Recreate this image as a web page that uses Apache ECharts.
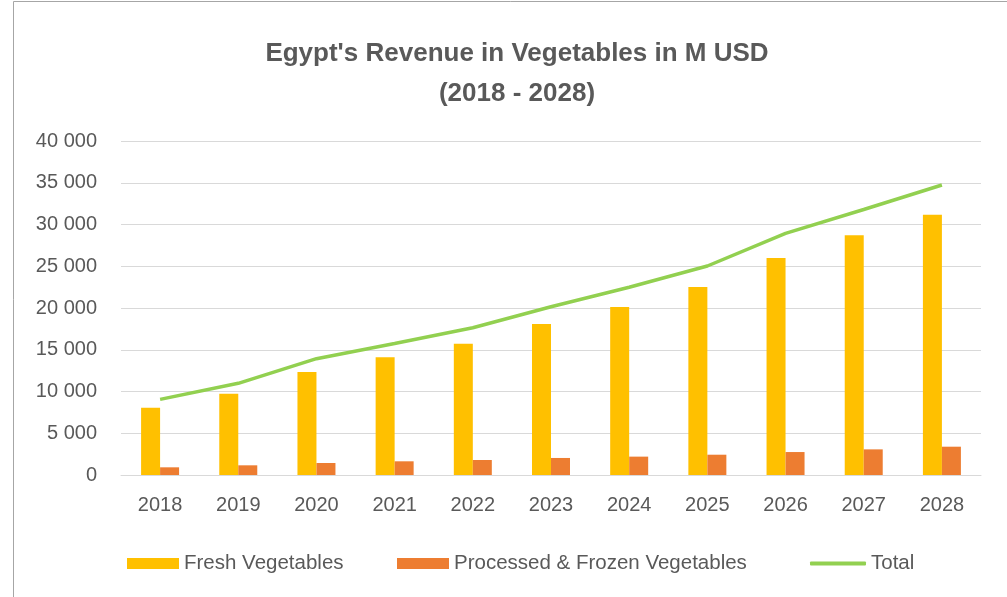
<!DOCTYPE html>
<html>
<head>
<meta charset="utf-8">
<script src="https://cdn.jsdelivr.net/npm/echarts@6/dist/echarts.min.js"></script>
<style>
  html, body { margin: 0; padding: 0; background: #fff; }
  #main { width: 1007px; height: 597px; }
</style>
</head>
<body>
<div id="main"></div>
<script>
// data (M USD)
var years = ['2018', '2019', '2020', '2021', '2022', '2023', '2024', '2025', '2026', '2027', '2028'];
var freshVeg = [8060, 9740, 12340, 14090, 15730, 18080, 20120, 22510, 25990, 28700, 31170];
var processedVeg = [920, 1160, 1440, 1640, 1800, 2040, 2200, 2430, 2750, 3070, 3390];
var totalVeg = [9060, 10980, 13930, 15750, 17640, 20150, 22480, 25030, 28940, 31800, 34730];

var dom = document.getElementById('main');
var myChart = echarts.init(dom, null, {renderer: 'canvas'});
var font = 'Liberation Sans';

function spaced(v) {
    return String(v).replace(/\B(?=(\d{3})+(?!\d))/g, ' ');
}

var legendText = {fontFamily: font, fontSize: 20.5, color: '#595959'};

var option = {
    backgroundColor: '#ffffff',
    animation: false,
    textStyle: {fontFamily: font},
    graphic: [{
        type: 'rect',
        shape: {x: 13.5, y: 1.5, width: 1020, height: 620},
        style: {fill: 'none', stroke: '#a6a6a6', lineWidth: 1},
        silent: true
    }],
    title: {
        text: "Egypt's Revenue in Vegetables in M USD\n(2018 - 2028)",
        left: 512,
        textAlign: 'center',
        top: 29,
        textStyle: {
            fontFamily: font,
            fontSize: 26,
            fontWeight: 'bold',
            color: '#595959',
            lineHeight: 40
        }
    },
    legend: [
        {data: ['Fresh Vegetables'], left: 122, top: 548, icon: 'rect', itemWidth: 52, itemHeight: 11,
         textStyle: legendText},
        {data: ['Processed & Frozen Vegetables'], left: 392, top: 548, icon: 'rect', itemWidth: 52, itemHeight: 11,
         textStyle: legendText},
        {data: [{name: 'Total', icon: 'roundRect'}], left: 805, top: 548, itemWidth: 56, itemHeight: 4,
         textStyle: legendText}
    ],
    grid: {left: 121, right: 26, top: 141, bottom: 122},
    xAxis: {
        type: 'category',
        data: years,
        axisLine: {lineStyle: {color: '#d9d9d9', width: 1}},
        axisTick: {show: false},
        axisLabel: {fontFamily: font, fontSize: 20, color: '#595959', margin: 20}
    },
    yAxis: {
        type: 'value',
        min: 0,
        max: 40000,
        interval: 5000,
        axisLine: {show: false},
        axisTick: {show: false},
        splitLine: {lineStyle: {color: '#d9d9d9', width: 1}},
        axisLabel: {fontFamily: font, fontSize: 20, color: '#595959', margin: 24, formatter: spaced}
    },
    series: [
        {name: 'Fresh Vegetables', type: 'bar', data: freshVeg, barWidth: 19, barGap: '0%',
         itemStyle: {color: '#ffc000'}},
        {name: 'Processed & Frozen Vegetables', type: 'bar', data: processedVeg, barWidth: 19, barGap: '0%',
         itemStyle: {color: '#ed7d31'}},
        {name: 'Total', type: 'line', data: totalVeg, symbol: 'none',
         lineStyle: {color: '#92d050', width: 3.5}, itemStyle: {color: '#92d050'}}
    ]
};

if (option && typeof option === 'object') {
    myChart.setOption(option, true);
}
</script>
</body>
</html>
